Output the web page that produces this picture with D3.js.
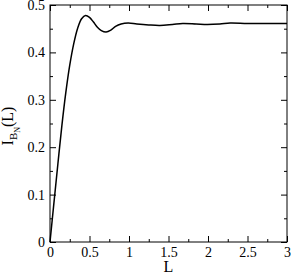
<!DOCTYPE html>
<html>
<head>
<meta charset="utf-8">
<script src="https://cdn.jsdelivr.net/npm/d3@7"></script>
<style>
  body { margin: 0; background: #fff; }
  text { font-family: "Liberation Serif", "DejaVu Serif", serif; }
</style>
</head>
<body>
<svg id="chart" width="291" height="273"></svg>
<script>
// curve
var lValues = [0, 0.05, 0.10, 0.15, 0.20, 0.25, 0.30, 0.35, 0.40, 0.45, 0.50, 0.55, 0.60, 0.65, 0.71, 0.77, 0.83, 0.90, 0.99, 1.10, 1.25, 1.39, 1.55, 1.68, 1.85, 1.99, 2.15, 2.28, 2.5, 2.75, 3.0]
var iValues = [0, 0.083, 0.165, 0.245, 0.315, 0.373, 0.418, 0.451, 0.471, 0.478, 0.474, 0.464, 0.453, 0.446, 0.443, 0.447, 0.455, 0.460, 0.462, 0.460, 0.458, 0.457, 0.459, 0.461, 0.460, 0.459, 0.460, 0.462, 0.461, 0.461, 0.461]

var xTicks = [0, 0.5, 1, 1.5, 2, 2.5, 3]
var xMinor = [0.25, 0.75, 1.25, 1.75, 2.25, 2.75]
var yTicks = [0, 0.1, 0.2, 0.3, 0.4, 0.5]
var yMinor = [0.05, 0.15, 0.25, 0.35, 0.45]

var svg = d3.select("#chart")
var margin = {top: 5, right: 4, bottom: 31, left: 50}
var width = 291 - margin.left - margin.right
var height = 273 - margin.top - margin.bottom

var g = svg.append("g").attr("transform", "translate(" + margin.left + "," + margin.top + ")")

var x = d3.scaleLinear().domain([0, 3]).range([0, width])
var y = d3.scaleLinear().domain([0, 0.5]).range([height, 0])

function styleAxis(sel) {
  sel.select(".domain").remove()
  sel.selectAll("line").attr("stroke", "#000")
  sel.selectAll("text").attr("font-size", 14).attr("fill", "#000")
    .style("font-family", "Liberation Serif, serif")
}

// major + minor ticks on all four sides, pointing in
g.append("g").attr("transform", "translate(0," + height + ")")
  .call(d3.axisBottom(x).tickValues(xTicks).tickSize(-6).tickPadding(5).tickFormat(d3.format("")))
  .call(styleAxis)
g.append("g").attr("transform", "translate(0," + height + ")")
  .call(d3.axisBottom(x).tickValues(xMinor).tickSize(-3).tickFormat(""))
  .call(styleAxis)
g.append("g")
  .call(d3.axisTop(x).tickValues(xTicks).tickSize(-6).tickFormat(""))
  .call(styleAxis)
g.append("g")
  .call(d3.axisTop(x).tickValues(xMinor).tickSize(-3).tickFormat(""))
  .call(styleAxis)

g.append("g")
  .call(d3.axisLeft(y).tickValues(yTicks).tickSize(-6).tickPadding(5).tickFormat(d => d == 0 ? "0" : d3.format(".1f")(d)))
  .call(styleAxis)
g.append("g")
  .call(d3.axisLeft(y).tickValues(yMinor).tickSize(-3).tickFormat(""))
  .call(styleAxis)
g.append("g").attr("transform", "translate(" + width + ",0)")
  .call(d3.axisRight(y).tickValues(yTicks).tickSize(-6).tickFormat(""))
  .call(styleAxis)
g.append("g").attr("transform", "translate(" + width + ",0)")
  .call(d3.axisRight(y).tickValues(yMinor).tickSize(-3).tickFormat(""))
  .call(styleAxis)

// frame
g.append("rect")
  .attr("width", width).attr("height", height)
  .attr("fill", "none").attr("stroke", "#000").attr("stroke-width", 1)

var data = lValues.map((l, i) => [l, iValues[i]])
var line = d3.line()
  .x(d => x(d[0]))
  .y(d => y(d[1]))
  .curve(d3.curveCatmullRom.alpha(0.5))

g.append("path")
  .datum(data)
  .attr("fill", "none")
  .attr("stroke", "#000")
  .attr("stroke-width", 1.5)
  .attr("d", line)

// axis titles
svg.append("text")
  .attr("x", margin.left + width / 2)
  .attr("y", 272)
  .attr("text-anchor", "middle")
  .attr("font-size", 16)
  .text("L")

var yl = svg.append("text")
  .attr("transform", "translate(13,126) rotate(-90)")
  .attr("text-anchor", "middle")
  .attr("font-size", 16)
yl.append("tspan").text("I")
yl.append("tspan").attr("font-size", 11).attr("dy", 4).text("B")
yl.append("tspan").attr("font-size", 8).attr("dy", 3).text("N")
yl.append("tspan").attr("dy", -7).text("(L)")
</script>
</body>
</html>
